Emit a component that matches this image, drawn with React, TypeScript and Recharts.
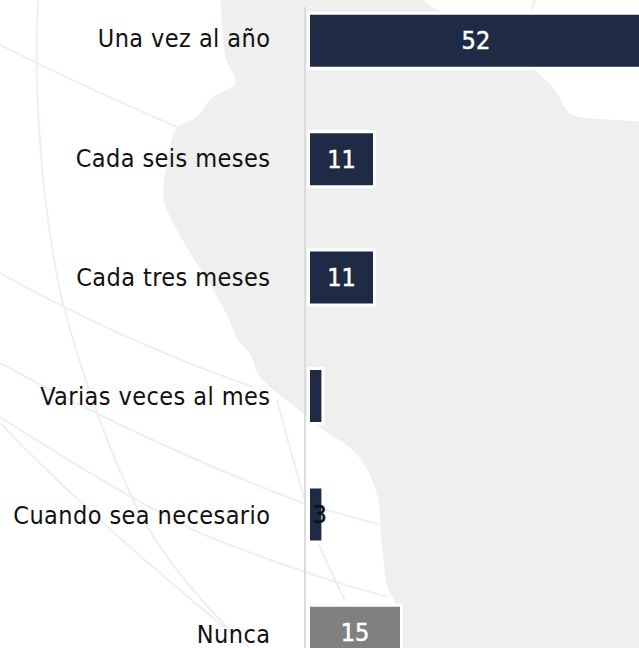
import React from 'react';
import { BarChart, Bar, Cell, XAxis, YAxis, LabelList } from 'recharts';

const categories = ['Una vez al año', 'Cada seis meses', 'Cada tres meses', 'Varias veces al mes', 'Cuando sea necesario', 'Nunca'];
// bar lengths, they do not follow the printed labels exactly
const barLengths = [55.8, 11, 11, 2.4, 2.4, 15.5];
const printedLabels = ['52', '11', '11', '', '3', '15'];
const barColors = ['#1f2a44', '#1f2a44', '#1f2a44', '#1f2a44', '#1f2a44', '#808080'];

const data = categories.map((name, i) => ({ name, length: barLengths[i], label: printedLabels[i] }));

// outline of the grey map behind the chart
const MAP_POINTS = [
  [218, -20], [222, 20], [224, 60], [241, 85], [210, 96], [199, 118], [173, 127], [169, 157], [161, 193],
  [169, 217], [196, 263], [216, 293], [231, 323], [237, 341], [252, 354], [256, 374], [277, 394], [305, 414],
  [323, 431], [350, 446], [367, 467], [379, 497], [380, 524], [383, 557], [387, 591], [400, 607], [400, 700],
  [720, 720], [720, 124], [577, 119], [565, 110], [557, 90], [537, 72], [500, 40], [433, 10], [400, -20],
];

const smoothPath = (pts: number[][]) => {
  const mid = (a: number[], b: number[]) => `${(a[0] + b[0]) / 2},${(a[1] + b[1]) / 2}`;
  let d = `M${mid(pts[pts.length - 1], pts[0])}`;
  pts.forEach((p, i) => {
    d += ` Q${p[0]},${p[1]} ${mid(p, pts[(i + 1) % pts.length])}`;
  });
  return d + ' Z';
};

const LINES = [
  'M0,45 Q90,90 177,127',
  'M38,0 C34,70 38,190 62,300 C75,350 100,430 130,493 C150,540 190,590 233,633',
  'M0,273 Q120,340 253,387',
  'M0,363 Q150,445 300,502 Q340,514 378,524',
  'M0,417 Q130,500 200,533 Q290,570 387,597',
  'M0,423 Q100,527 250,648',
  'M277,400 Q290,450 317,541 L345,601',
  'M535,0 L532,10',
];

const Background = () => (
  <svg width={639} height={648} style={{ position: 'absolute', left: 0, top: 0 }}>
    <rect width={639} height={648} fill="#ffffff" />
    {LINES.map(d => (
      <path key={d} d={d} fill="none" stroke="#eeeef8" strokeWidth={2} />
    ))}
    <path d={smoothPath(MAP_POINTS)} fill="#efefef" />
  </svg>
);

const FONT = '"DejaVu Sans Condensed", "DejaVu Sans", sans-serif';
const FONT_SIZE = 25;

const CategoryTick = (props: any) => {
  const { x, y, index, payload } = props;
  return (
    <text
      x={x + 0.4}
      y={y + (index - 1.5) * 0.8 - 0.5}
      fill="#111111"
      fontFamily={FONT}
      fontSize={FONT_SIZE}
      letterSpacing={0.42}
      textAnchor="end"
      dominantBaseline="central"
    >
      {payload.value}
    </text>
  );
};

const BarLabel = (props: any) => {
  const { x, y, width, height, value } = props;
  if (!value) return null;
  const narrow = width < 20;
  const color = narrow ? '#111111' : '#ffffff';
  return (
    <text
      x={x + width / 2 + (narrow ? 4 : 0)}
      y={y + height / 2}
      fill={color}
      stroke={color}
      strokeWidth={0.5}
      fontFamily={FONT}
      fontSize={FONT_SIZE}
      textAnchor="middle"
      dominantBaseline="central"
    >
      {value}
    </text>
  );
};

export default function App() {
  return (
    <div style={{ position: 'absolute', left: 0, top: 0, width: 639, height: 648, overflow: 'hidden' }}>
      <Background />
      <div style={{ position: 'absolute', left: 0, top: 0 }}>
        <BarChart
          width={680}
          height={666}
          data={data}
          layout="vertical"
          margin={{ top: 7, right: 11.5, bottom: 0, left: 0 }}
        >
          <XAxis type="number" hide domain={[0, 60]} padding={{ left: 3.5 }} />
          <YAxis
            type="category"
            dataKey="name"
            width={305}
            scale="point"
            padding={{ top: 33.5, bottom: 33.5 }}
            interval={0}
            axisLine={{ stroke: '#dcdcdc', strokeWidth: 2 }}
            tickLine={false}
            tickMargin={29}
            tick={CategoryTick}
          />
          <Bar dataKey="length" barSize={55} stroke="#ffffff" strokeWidth={3} isAnimationActive={false}>
            {data.map((d, i) => (
              <Cell key={d.name} fill={barColors[i]} />
            ))}
            <LabelList dataKey="label" content={BarLabel} />
          </Bar>
        </BarChart>
      </div>
    </div>
  );
}
